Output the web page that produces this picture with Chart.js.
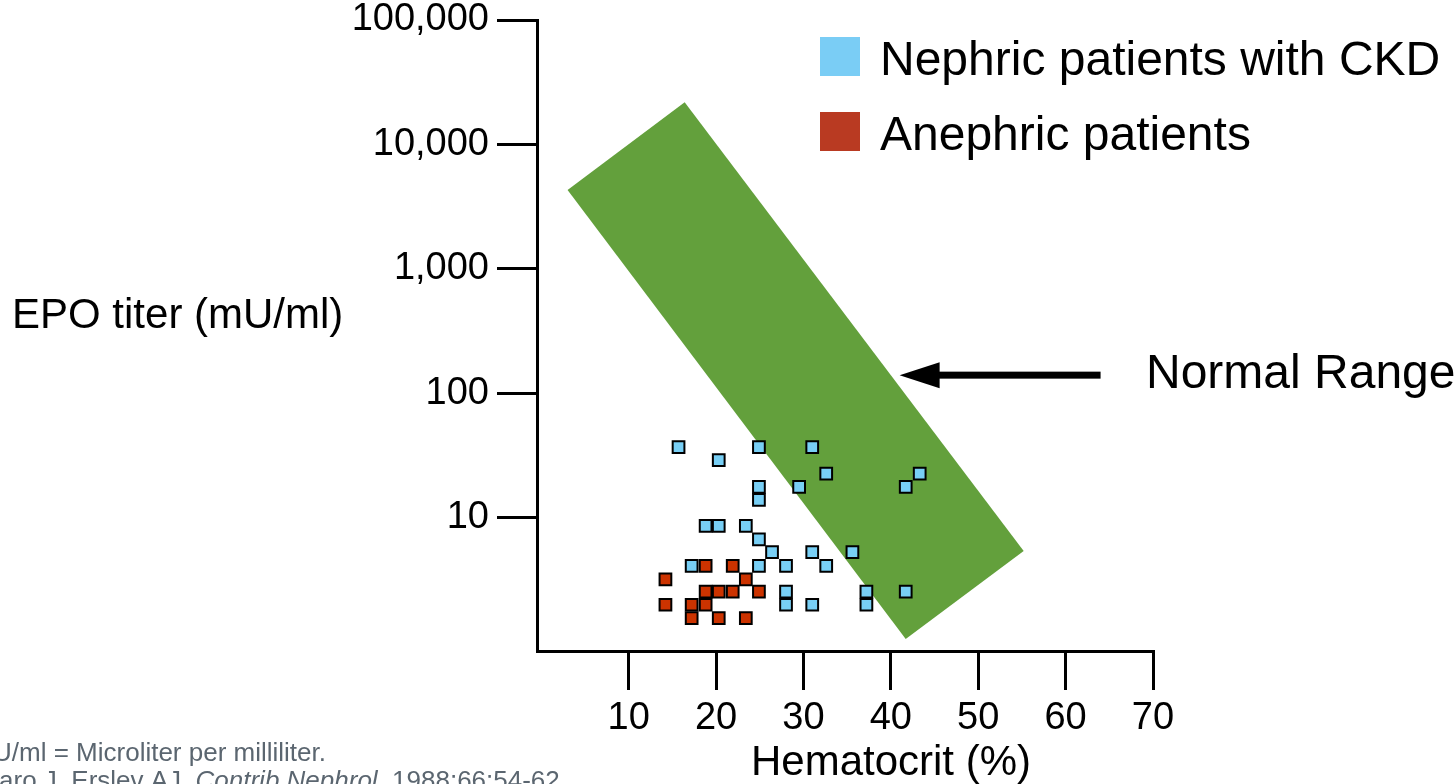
<!DOCTYPE html>
<html>
<head>
<meta charset="utf-8">
<title>EPO titer vs hematocrit</title>
<script src="https://cdn.jsdelivr.net/npm/chart.js@4.4.1/dist/chart.umd.min.js"></script>
<style>
  html, body { margin: 0; padding: 0; background: #ffffff; }
  canvas { display: block; }
</style>
</head>
<body>
<canvas id="chart" width="1455" height="784"></canvas>
<script>
const FONT = '"Liberation Sans", Arial, Helvetica, sans-serif';

// Nephric patients with CKD: hematocrit (%) and EPO titer (mU/ml)
const nephricHct = [15.7, 20.3, 24.9, 31.0, 32.6, 29.5, 24.9, 24.9, 43.3, 41.7,
                    18.8, 20.3, 23.4, 24.9, 26.4, 31.0, 35.6, 17.2, 24.9, 28.0,
                    32.6, 28.0, 28.0, 31.0, 37.2, 37.2, 41.7];
const nephricEpo = [37, 29, 37, 37, 22.6, 17.7, 17.7, 13.9, 22.6, 17.7,
                    8.6, 8.6, 8.6, 6.7, 5.3, 5.3, 5.3, 4.1, 4.1, 4.1,
                    4.1, 2.55, 2.0, 2.0, 2.55, 2.0, 2.55];

// Anephric patients: hematocrit (%) and EPO titer (mU/ml)
const anephricHct = [18.8, 21.9, 14.2, 23.4, 18.8, 20.3, 21.9, 24.9, 14.2, 17.2,
                     18.8, 17.2, 20.3, 23.4];
const anephricEpo = [4.1, 4.1, 3.2, 3.2, 2.55, 2.55, 2.55, 2.55, 2.0, 2.0,
                     2.0, 1.56, 1.56, 1.56];

// Corners of the normal-range band (top, right, bottom, left)
const bandHct = [16.4, 55.2, 41.7, 3.0];
const bandEpo = [21800, 5.4, 1.06, 4300];

// Arrow pointing at the band, and where its label sits
const arrowTipHct = 41.0;
const arrowTailHct = 64.0;
const arrowEpo = 140;
const arrowLabelHct = 69.2;

// Axis ticks
const xTicks = [10, 20, 30, 40, 50, 60, 70];
const yTicks = [10, 100, 1000, 10000, 100000];

const seriesLabels = ['Nephric patients with CKD', 'Anephric patients'];
const seriesFill = ['#78CFF5', '#CC3300'];
const legendFill = ['#7ACDF5', '#B93A22'];

const toPoints = (xs, ys) => xs.map((x, i) => ({ x: x, y: ys[i] }));

// Green normal-range band, drawn beneath the markers
const bandPlugin = {
  id: 'normalBand',
  beforeDatasetsDraw(chart) {
    const { ctx, scales } = chart;
    ctx.save();
    ctx.beginPath();
    bandHct.forEach((h, i) => {
      const px = scales.x.getPixelForValue(h);
      const py = scales.y.getPixelForValue(bandEpo[i]);
      if (i === 0) ctx.moveTo(px, py); else ctx.lineTo(px, py);
    });
    ctx.closePath();
    ctx.fillStyle = '#63A03C';
    ctx.fill();
    ctx.restore();
  }
};

// Arrow, legend, axis titles and footnote
const notesPlugin = {
  id: 'notes',
  afterDraw(chart) {
    const { ctx, scales } = chart;
    ctx.save();

    // arrow
    const tipX = scales.x.getPixelForValue(arrowTipHct);
    const tailX = scales.x.getPixelForValue(arrowTailHct);
    const ay = scales.y.getPixelForValue(arrowEpo);
    ctx.fillStyle = '#000';
    ctx.fillRect(tipX + 36, ay - 3.5, tailX - tipX - 36, 7);
    ctx.beginPath();
    ctx.moveTo(tipX, ay);
    ctx.lineTo(tipX + 40, ay - 13);
    ctx.lineTo(tipX + 40, ay + 13);
    ctx.closePath();
    ctx.fill();

    ctx.font = '48px ' + FONT;
    ctx.textAlign = 'left';
    ctx.textBaseline = 'alphabetic';
    ctx.fillText('Normal Range', scales.x.getPixelForValue(arrowLabelHct), ay + 13);

    // legend
    const lx = 820, rows = [37, 112];
    seriesLabels.forEach((label, i) => {
      ctx.fillStyle = legendFill[i];
      ctx.fillRect(lx, rows[i], 40, 39);
      ctx.fillStyle = '#000';
      ctx.fillText(label, lx + 60, rows[i] + 38);
    });

    // axis titles
    ctx.font = '42px ' + FONT;
    ctx.fillText('EPO titer (mU/ml)', 12, 328);
    ctx.textAlign = 'center';
    ctx.fillText('Hematocrit (%)', 891, 775);

    // footnote
    ctx.fillStyle = '#5B6670';
    ctx.font = '26px ' + FONT;
    ctx.textAlign = 'right';
    ctx.fillText('mU/ml = Microliter per milliliter.', 326, 761);
    let rx = 567;
    const baseline2 = 789;
    const parts = [
      { t: '. 1988;66:54-62.', italic: false },
      { t: 'Contrib Nephrol', italic: true },
      { t: 'Caro J, Erslev AJ. ', italic: false }
    ];
    parts.forEach(p => {
      ctx.font = (p.italic ? 'italic ' : '') + '26px ' + FONT;
      ctx.fillText(p.t, rx, baseline2);
      rx -= ctx.measureText(p.t).width;
    });

    ctx.restore();
  }
};

const axisLine = { display: true, color: '#000', width: 3 };

new Chart(document.getElementById('chart'), {
  type: 'scatter',
  data: {
    datasets: [
      {
        label: seriesLabels[0],
        data: toPoints(nephricHct, nephricEpo),
        backgroundColor: seriesFill[0],
        borderColor: '#000',
        borderWidth: 2,
        pointStyle: 'rect',
        pointRadius: 8.3,
        pointHoverRadius: 8.3
      },
      {
        label: seriesLabels[1],
        data: toPoints(anephricHct, anephricEpo),
        backgroundColor: seriesFill[1],
        borderColor: '#000',
        borderWidth: 2,
        pointStyle: 'rect',
        pointRadius: 8.3,
        pointHoverRadius: 8.3
      }
    ]
  },
  options: {
    responsive: false,
    animation: false,
    devicePixelRatio: 1,
    layout: { padding: { left: 0, top: 20, right: 302, bottom: 0 } },
    plugins: { legend: { display: false }, tooltip: { enabled: false } },
    scales: {
      x: {
        type: 'linear',
        min: -0.5,
        max: 70,
        afterBuildTicks: s => { s.ticks = xTicks.map(v => ({ value: v })); },
        afterFit: s => { s.height = 133; s.paddingLeft = 0; s.paddingRight = 0; },
        border: axisLine,
        grid: { drawOnChartArea: false, drawTicks: true, tickLength: 39, tickWidth: 3,
                tickColor: '#000', color: '#000', lineWidth: 3 },
        ticks: { font: { family: FONT, size: 38 }, color: '#000', padding: 6,
                 maxRotation: 0, autoSkip: false, callback: v => String(v) }
      },
      y: {
        type: 'logarithmic',
        min: 0.85,
        max: 100000,
        afterBuildTicks: s => { s.ticks = yTicks.map(v => ({ value: v })); },
        afterFit: s => { s.width = 537; s.paddingTop = 0; s.paddingBottom = 0; },
        border: axisLine,
        grid: { drawOnChartArea: false, drawTicks: true, tickLength: 40, tickWidth: 3,
                tickColor: '#000', color: '#000', lineWidth: 3 },
        ticks: { font: { family: FONT, size: 38 }, color: '#000', padding: 8,
                 autoSkip: false, callback: v => Number(v).toLocaleString('en-US') }
      }
    }
  },
  plugins: [bandPlugin, notesPlugin]
});
</script>
</body>
</html>
